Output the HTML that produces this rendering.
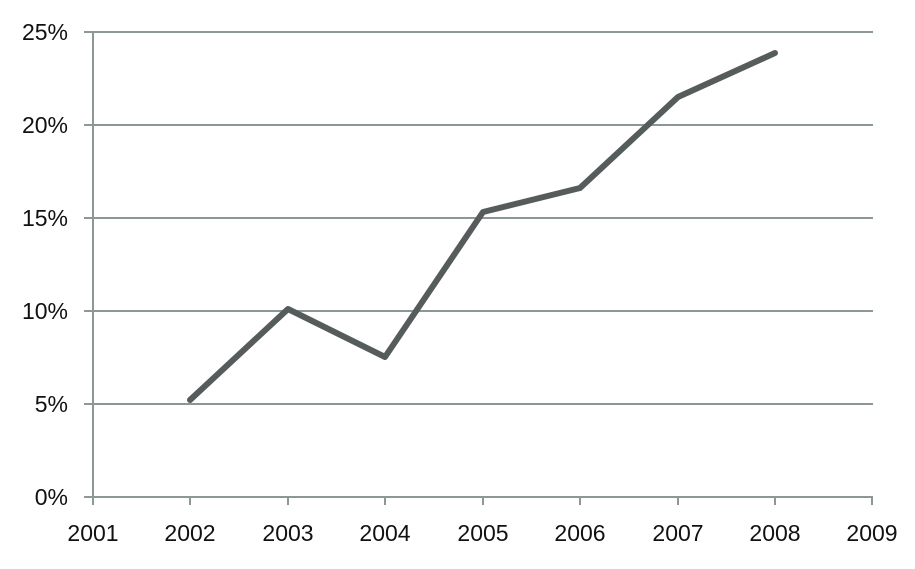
<!DOCTYPE html>
<html><head><style>body{margin:0;background:#fff}</style></head><body>
<svg width="915" height="564" xmlns="http://www.w3.org/2000/svg" font-family="Liberation Sans, sans-serif" font-size="23" fill="#111">
<g stroke="#8c9898" stroke-width="2">
<line x1="84" y1="32" x2="873" y2="32"/>
<line x1="84" y1="125" x2="873" y2="125"/>
<line x1="84" y1="218" x2="873" y2="218"/>
<line x1="84" y1="311" x2="873" y2="311"/>
<line x1="84" y1="404" x2="873" y2="404"/>
<line x1="84" y1="497" x2="873" y2="497"/>
<line x1="93" y1="32" x2="93" y2="505"/>
<line x1="190" y1="497" x2="190" y2="505"/>
<line x1="288" y1="497" x2="288" y2="505"/>
<line x1="385" y1="497" x2="385" y2="505"/>
<line x1="483" y1="497" x2="483" y2="505"/>
<line x1="580" y1="497" x2="580" y2="505"/>
<line x1="678" y1="497" x2="678" y2="505"/>
<line x1="775" y1="497" x2="775" y2="505"/>
<line x1="872" y1="497" x2="872" y2="505"/>
</g>
<g text-anchor="end">
<text x="68" y="40">25%</text><text x="68" y="133">20%</text><text x="68" y="226">15%</text>
<text x="68" y="319">10%</text><text x="68" y="412">5%</text><text x="68" y="505">0%</text>
</g>
<g text-anchor="middle">
<text x="93" y="541">2001</text><text x="190" y="541">2002</text><text x="288" y="541">2003</text>
<text x="385" y="541">2004</text><text x="483" y="541">2005</text><text x="580" y="541">2006</text>
<text x="678" y="541">2007</text><text x="775" y="541">2008</text><text x="872" y="541">2009</text>
</g>
<polyline points="190,400 288,309 385,357 483,212 580,188 678,97 775,53" fill="none" stroke="#565c5c" stroke-width="6" stroke-linejoin="round" stroke-linecap="round"/>
</svg>
</body></html>
